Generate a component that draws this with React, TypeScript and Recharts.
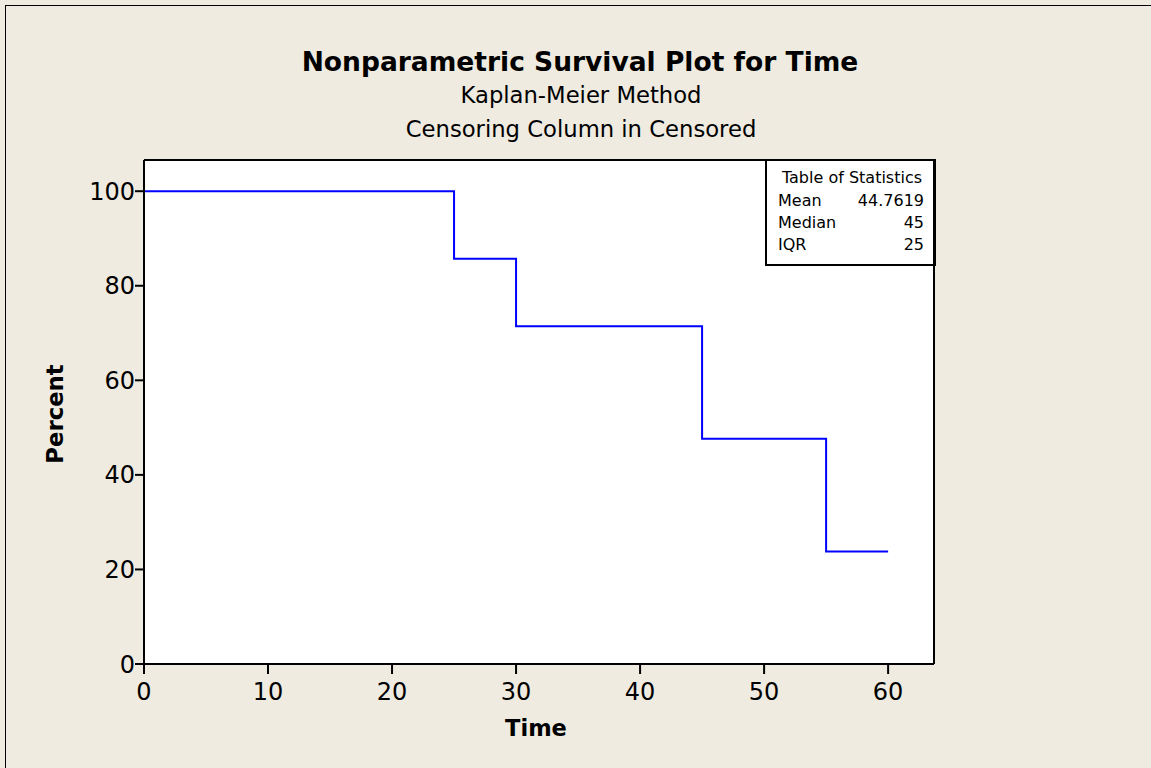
import { LineChart, Line, XAxis, YAxis, CartesianGrid, ReferenceLine, Customized } from "recharts"

const times = [0, 25, 30, 45, 55, 60]
const percents = [100, 85.7143, 71.4286, 47.619, 23.8095, 23.8095]
const xTicks = [0, 10, 20, 30, 40, 50, 60]
const yTicks = [0, 20, 40, 60, 80, 100]
const statLabels = ["Mean", "Median", "IQR"]
const statValues = ["44.7619", "45", "25"]

const data = times.map((t, i) => ({ time: t, percent: percents[i] }))

const X_MAX = 63.7
const Y_MAX = 106.6
const FONT = "'DejaVu Sans', Verdana, sans-serif"

const Titles = () => (
  <g fontFamily={FONT} fill="#000">
    <text x={580} y={71} textAnchor="middle" fontSize={26.5} fontWeight="bold">
      Nonparametric Survival Plot for Time
    </text>
    <text x={581} y={103} textAnchor="middle" fontSize={22.7}>
      Kaplan-Meier Method
    </text>
    <text x={581} y={137} textAnchor="middle" fontSize={22.7}>
      Censoring Column in Censored
    </text>
    <text x={536} y={736} textAnchor="middle" fontSize={22.5} fontWeight="bold">
      Time
    </text>
    <text x={63} y={414} textAnchor="middle" fontSize={22.8} fontWeight="bold" transform="rotate(-90 63 414)">
      Percent
    </text>
    <g fontSize={16}>
      <rect x={766} y={160} width={169} height={105} fill="#fff" stroke="#000" strokeWidth={2} />
      <text x={852} y={183} textAnchor="middle">Table of Statistics</text>
      {statLabels.map((s, i) => (
        <g key={s}>
          <text x={778} y={206 + i * 22}>{s}</text>
          <text x={924} y={206 + i * 22} textAnchor="end">{statValues[i]}</text>
        </g>
      ))}
    </g>
  </g>
)

export default function App() {
  return (
    <div style={{ position: "absolute", left: 0, top: 0, width: 1151, height: 768, background: "#EFEBE1", overflow: "hidden" }}>
      <div style={{ position: "absolute", left: 5, top: 5, width: 1200, height: 800, borderLeft: "1px solid #000", borderTop: "1px solid #000" }} />
      <div style={{ position: "absolute", left: 0, top: 0 }}>
        <LineChart width={1151} height={768} data={data} margin={{ top: 160, right: 217, bottom: 64, left: 84 }}>
          <CartesianGrid horizontal={false} vertical={false} fill="#fff" />
          <XAxis
            dataKey="time"
            type="number"
            domain={[0, X_MAX]}
            ticks={xTicks}
            allowDataOverflow
            height={40}
            tickSize={10}
            tickMargin={9}
            stroke="#000"
            strokeWidth={2}
            tick={{ fill: "#000", fontSize: 24, fontFamily: FONT }}
          />
          <YAxis
            type="number"
            domain={[0, Y_MAX]}
            ticks={yTicks}
            allowDataOverflow
            width={60}
            tickSize={9}
            tickMargin={0}
            stroke="#000"
            strokeWidth={2}
            tick={{ fill: "#000", fontSize: 24, fontFamily: FONT }}
          />
          <ReferenceLine y={Y_MAX} stroke="#000" strokeWidth={2} />
          <ReferenceLine x={X_MAX} stroke="#000" strokeWidth={2} />
          <Line
            type="stepAfter"
            dataKey="percent"
            stroke="#0000FF"
            strokeWidth={2}
            dot={false}
            isAnimationActive={false}
          />
          <Customized component={Titles} />
        </LineChart>
      </div>
    </div>
  )
}
